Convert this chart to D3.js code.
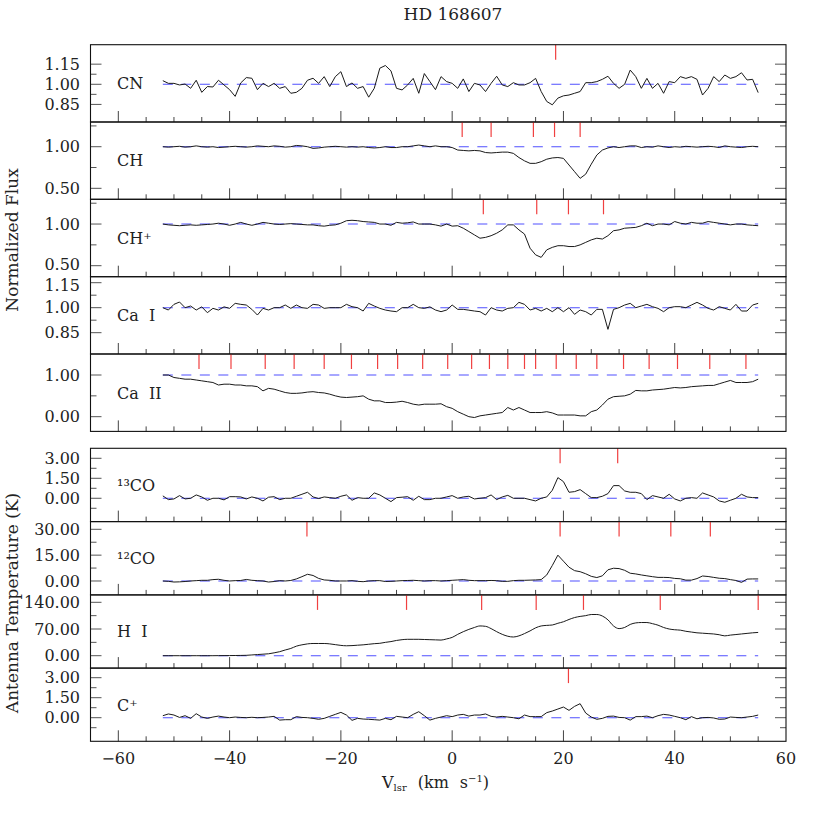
<!DOCTYPE html>
<html><head><meta charset="utf-8">
<script src="https://cdn.jsdelivr.net/npm/d3@7"></script>
<style>body{margin:0;background:#fff}svg{display:block}</style>
</head><body>
<svg id="chart" width="830" height="830"></svg>
<script>
// ---------------- data ----------------
const velocity = [-52,-51,-50,-49,-48,-47,-46,-45,-44,-43,-42,-41,-40,-39,-38,-37,-36,-35,-34,-33,-32,-31,-30,-29,-28,-27,-26,-25,-24,-23,-22,-21,-20,-19,-18,-17,-16,-15,-14,-13,
 -12,-11,-10,-9,-8,-7,-6,-5,-4,-3,-2,-1,0,1,2,3,4,5,6,7,8,9,10,11,12,13,14,15,16,17,18,19,20,21,22,23,24,25,26,27,28,29,30,31,32,33,34,35,36,37,38,39,40,41,42,43,44,45,46,47,48,49,50,51,52,53,54,55];

const cnFlux = [1.027,1.007,1.007,0.995,1.002,0.97,1.03,0.94,0.983,0.98,1.03,0.995,0.96,0.91,1.01,1.05,1.045,0.96,1.007,0.983,1.007,0.97,0.983,0.933,0.94,0.97,1.03,1.045,1.007,1.057,0.983,1.057,1.094,0.983,1.01,0.97,0.983,0.904,0.97,1.12,
 1.14,1.10,0.97,0.958,0.995,1.044,0.933,1.08,1.02,0.96,1.057,1.02,1.007,0.97,1.04,0.946,1.007,0.995,0.946,1.007,1.06,0.995,0.983,1.012,0.995,0.995,1.012,1.044,0.946,0.872,0.847,0.897,0.914,0.92,0.933,0.946,1.012,1.012,1.02,1.037,1.06,1.007,0.97,1.0,1.106,1.057,0.97,1.044,0.97,1.007,0.933,1.02,1.012,1.057,1.044,1.057,1.037,0.92,0.97,1.057,1.02,1.069,1.044,1.057,1.086,1.032,1.037,0.938];

const chFlux = [1.0,0.995,1.0,1.005,0.995,1.0,1.01,1.0,0.995,1.0,0.99,0.995,1.0,1.005,1.0,0.995,1.0,1.01,1.005,1.0,1.01,1.005,0.995,1.0,1.015,1.01,1.0,0.98,0.985,0.995,1.0,1.005,1.0,0.995,1.0,0.995,1.0,0.99,0.985,0.99,
 1.0,0.99,0.99,1.0,1.0,1.01,1.02,1.01,1.0,1.01,1.0,1.0,0.99,0.96,0.955,0.95,0.955,0.95,0.93,0.925,0.93,0.935,0.935,0.92,0.87,0.83,0.80,0.80,0.82,0.85,0.865,0.87,0.86,0.78,0.70,0.62,0.67,0.79,0.90,0.96,0.985,1.0,
 0.99,1.0,1.01,1.01,0.99,1.0,0.995,1.01,1.0,0.99,1.0,0.995,1.005,1.0,0.995,1.0,1.005,1.0,0.99,1.01,1.0,0.995,0.99,1.0,1.005,1.0];

const chPlusFlux = [1.0,0.99,0.985,0.98,0.985,0.99,0.985,0.99,0.995,1.0,1.01,1.0,0.985,1.0,1.02,1.0,0.985,1.0,1.02,1.01,1.0,0.995,1.0,1.005,1.0,0.995,0.99,0.99,0.98,0.975,0.985,0.99,1.01,1.04,1.045,1.04,1.03,1.025,1.02,1.0,
 1.0,0.985,1.02,1.01,1.015,1.025,1.0,1.0,1.0,0.99,0.975,1.0,0.975,0.98,0.95,0.91,0.87,0.83,0.84,0.86,0.89,0.93,0.99,0.99,0.93,0.88,0.71,0.63,0.60,0.69,0.72,0.74,0.74,0.73,0.73,0.75,0.78,0.81,0.83,0.82,0.86,0.92,0.93,0.95,0.955,0.96,0.98,1.01,0.98,1.0,1.0,0.99,1.03,1.01,1.0,1.02,1.01,1.01,1.03,1.02,1.01,1.0,0.99,1.0,1.0,0.99,0.985,0.98];

const caIFlux = [1.0,0.986,1.02,1.034,1.0,1.01,0.986,1.005,0.97,0.996,0.986,1.005,0.996,1.026,1.02,1.016,0.99,0.956,0.996,0.986,1.0,1.0,1.016,0.996,1.016,1.0,0.996,1.02,1.016,0.996,1.0,1.0,1.0,1.02,1.006,1.0,0.98,1.026,1.01,0.996,
 0.986,0.98,0.976,1.0,1.0,1.02,1.0,0.996,1.005,0.986,0.976,0.986,1.016,0.99,0.99,0.985,0.98,0.976,0.956,1.0,0.986,0.98,0.996,1.0,1.032,1.02,0.986,0.996,0.98,0.996,0.976,1.0,0.976,1.0,0.96,0.986,0.976,0.956,0.99,0.99,0.87,0.99,1.0,1.016,1.026,1.0,1.01,1.02,1.006,0.996,0.976,1.0,1.006,1.006,1.0,1.016,1.032,1.016,0.996,0.986,1.006,0.996,0.986,1.02,0.98,0.98,1.016,1.026];

const caIIFlux = [1.0,1.0,0.94,0.92,0.90,0.90,0.88,0.86,0.84,0.82,0.76,0.78,0.78,0.76,0.76,0.74,0.74,0.72,0.62,0.68,0.66,0.62,0.58,0.56,0.56,0.57,0.59,0.60,0.58,0.57,0.54,0.50,0.47,0.46,0.47,0.48,0.50,0.42,0.38,0.38,
 0.34,0.34,0.35,0.37,0.34,0.30,0.28,0.30,0.30,0.30,0.31,0.24,0.20,0.12,0.06,0.0,-0.02,0.02,0.04,0.06,0.08,0.10,0.22,0.16,0.22,0.16,0.10,0.10,0.10,0.12,0.09,0.04,0.04,0.04,0.04,0.02,0.02,0.12,0.16,0.28,0.42,0.48,0.49,0.50,0.54,0.63,0.62,0.62,0.64,0.65,0.66,0.68,0.70,0.69,0.70,0.72,0.73,0.74,0.75,0.75,0.79,0.83,0.87,0.82,0.82,0.82,0.84,0.90];

const co13Temp = [0.18,-0.1,-0.05,0.2,-0.05,0.0,0.25,0.1,-0.15,0.0,0.0,-0.12,0.12,0.12,0.1,-0.05,0.1,0.0,-0.2,0.08,0.12,-0.1,0.0,0.0,0.15,0.3,0.45,0.1,-0.02,0.1,0.05,0.0,0.15,0.25,-0.15,0.05,0.0,0.0,0.4,0.25,
 0.0,-0.25,0.05,0.08,0.12,-0.15,0.15,-0.1,-0.1,0.0,0.0,0.1,0.2,0.0,0.1,0.15,-0.05,0.0,0.05,0.25,-0.1,0.1,0.22,0.0,0.0,0.0,-0.1,-0.2,0.0,0.1,0.6,1.55,1.25,0.45,0.5,0.65,0.35,0.05,0.05,0.15,0.35,0.95,0.95,0.55,0.45,0.45,0.35,-0.1,0.2,0.1,0.0,0.3,-0.05,-0.2,0.0,0.05,0.0,0.4,0.25,0.1,-0.2,-0.3,-0.15,0.0,0.3,0.1,0.05,0.05];

const co12Temp = [0.0,-0.2,-0.6,-0.5,-0.3,0.0,0.2,0.4,0.4,0.8,1.0,0.4,0.0,0.2,0.3,0.9,0.4,0.2,0.0,-0.6,-0.3,0.2,0.0,0.3,1.2,2.5,3.9,3.2,1.5,0.6,0.4,0.0,0.0,0.0,0.2,-0.2,-0.4,0.0,0.2,0.2,
 -0.3,-0.2,0.0,0.2,0.3,0.4,0.2,0.0,0.2,0.2,0.0,0.2,0.4,0.6,0.8,0.4,0.2,0.2,0.2,0.3,0.2,-0.2,-0.2,0.2,0.4,0.4,0.5,0.6,0.8,3.5,9.0,15.0,11.5,8.0,6.0,5.4,4.2,2.7,2.0,3.0,6.5,7.4,7.2,6.2,4.5,4.1,3.5,3.0,2.5,2.1,2.1,2.0,1.5,1.3,0.5,0.5,1.4,2.9,2.6,2.1,1.6,1.4,0.8,0.3,-0.8,1.1,1.2,1.2];

const hiTemp = [0.0,0.0,0.0,0.0,0.0,0.0,0.0,0.0,0.0,0.0,0.2,0.3,0.4,0.5,0.7,1.0,2.0,3.0,4.0,5.0,7.5,10.5,15,19,25,28.5,31,32,32,32,31,29,27,26,26.5,27.5,28.5,30,31.5,32.5,
 35,37,40,42,43,43,43,42.5,42,41.5,41,44,48,56,63,69,74,78,77,71,63,56,51,49,52,58,65,73,78,79.5,80.5,85,89,95,100,103,105,108,108,104,94,78,71,74,82,86,87,87,84,80,74,70,68,67,64,62,60,59,58,57,55,52,54,55.5,57,58.5,60,61];

const cPlusTemp = [0.15,0.28,0.2,0.02,0.15,-0.05,0.3,0.05,-0.05,0.05,0.12,0.05,0.0,0.05,0.02,0.0,0.03,0.0,0.02,0.05,0.1,-0.18,-0.15,-0.15,0.08,0.02,0.0,-0.05,-0.12,-0.05,0.1,0.25,0.4,0.2,-0.2,-0.05,-0.1,-0.12,-0.15,-0.18,
 -0.05,-0.15,0.1,0.05,0.0,0.25,0.45,0.15,-0.18,-0.05,0.05,0.15,0.08,0.2,0.25,0.12,0.2,0.2,0.28,0.1,0.05,0.1,0.05,0.0,-0.08,0.2,0.08,0.08,0.08,0.38,0.5,0.65,0.8,0.55,0.85,1.05,0.35,0.05,-0.12,-0.05,0.1,0.12,0.02,0.0,-0.18,0.08,0.08,0.12,0.0,0.15,0.25,0.2,0.1,0.0,-0.15,0.08,-0.08,0.0,0.02,-0.02,-0.12,-0.1,0.05,0.02,0.0,0.05,0.1,0.2];

// velocity components marked in red
const cnMarks = [18.6];
const chMarks = [1.8, 7.0, 14.6, 18.4, 23.0];
const chPlusMarks = [5.6, 15.2, 20.9, 27.2];
const caIMarks = [];
const caIIMarks = [-45.5,-39.75,-33.6,-28.4,-23.0,-18.1,-13.4,-9.8,-5.3,-0.8,3.5,6.7,10.0,13.0,15.0,18.7,22.3,26.0,30.8,35.4,40.5,46.3,52.8];
const co13Marks = [19.4, 29.75];
const co12Marks = [-26.1, 19.4, 30.0, 39.3, 46.4];
const hiMarks = [-24.2, -8.2, 5.3, 15.1, 23.6, 37.4, 55.0];
const cPlusMarks = [20.9];

// tick labels
const xTickLabels = [-60,-40,-20,0,20,40,60];
const cnTicks = [0.85, 1.00, 1.15], cnMinor = [0.925, 1.075];
const chTicks = [0.50, 1.00], chMinor = [0.75, 1.25];
const caITicks = [0.85, 1.00, 1.15], caIMinor = [0.925, 1.075];
const caIITicks = [0.00, 1.00], caIIMinor = [0.5];
const coTicks = [0.00, 1.50, 3.00], coMinor = [-0.75, 0.75, 2.25];
const co12Ticks = [0.00, 15.00, 30.00], co12Minor = [7.5, 22.5];
const hiTicks = [0.00, 70.00, 140.00], hiMinor = [35, 105];

// ---------------- layout ----------------
const FONT = "'DejaVu Serif', serif";
const svg = d3.select('#chart');
const X0 = 90.5, X1 = 786;
const x = d3.scaleLinear().domain([-65, 60]).range([X0, X1]);

const upperTops = [44.7, 122.0, 199.3, 276.7, 354.0, 431.4];
const lowerTops = [448.3, 521.6, 594.9, 668.1, 741.3];

const panels = [
  {label: 'CN', data: cnFlux, ref: 1, domain: [0.719, 1.295], top: upperTops[0], bottom: upperTops[1], major: cnTicks, minor: cnMinor, marks: cnMarks},
  {label: 'CH', data: chFlux, ref: 1, domain: [0.368, 1.297], top: upperTops[1], bottom: upperTops[2], major: chTicks, minor: chMinor, marks: chMarks},
  {label: 'CH⁺', data: chPlusFlux, ref: 1, domain: [0.368, 1.297], top: upperTops[2], bottom: upperTops[3], major: chTicks, minor: chMinor, marks: chPlusMarks, lowShift: -1},
  {label: 'Ca\u00a0\u00a0I', data: caIFlux, ref: 1, domain: [0.722, 1.186], top: upperTops[3], bottom: upperTops[4], major: caITicks, minor: caIMinor, marks: caIMarks, highShift: 3},
  {label: 'Ca\u00a0\u00a0II', data: caIIFlux, ref: 1, domain: [-0.353, 1.504], top: upperTops[4], bottom: upperTops[5], major: caIITicks, minor: caIIMinor, marks: caIIMarks},
  {label: '¹³CO', data: co13Temp, ref: 0, domain: [-1.75, 3.75], top: lowerTops[0], bottom: lowerTops[1], major: coTicks, minor: coMinor, marks: co13Marks},
  {label: '¹²CO', data: co12Temp, ref: 0, domain: [-8.07, 34.47], top: lowerTops[1], bottom: lowerTops[2], major: co12Ticks, minor: co12Minor, marks: co12Marks},
  {label: 'H\u00a0\u00a0I', data: hiTemp, ref: 0, domain: [-32.5, 159.4], top: lowerTops[2], bottom: lowerTops[3], major: hiTicks, minor: hiMinor, marks: hiMarks, smooth: true},
  {label: 'C⁺', data: cPlusTemp, ref: 0, domain: [-1.77, 3.72], top: lowerTops[3], bottom: lowerTops[4], major: coTicks, minor: coMinor, marks: cPlusMarks, last: true}
];

const xMinor = d3.range(-60, 60, 5);

panels.forEach(p => {
  const y = d3.scaleLinear().domain(p.domain).range([p.bottom, p.top]);
  const g = svg.append('g');

  // x ticks (bottom, pointing up)
  g.selectAll('.xt').data(xMinor).enter().append('line').attr('class', 'xt')
    .attr('x1', d => x(d)).attr('x2', d => x(d))
    .attr('y1', p.bottom).attr('y2', d => p.bottom - (d % 20 === 0 ? 11 : 5))
    .attr('stroke', '#444').attr('stroke-width', 1);

  // y ticks both sides
  const yt = p.major.map(v => ({v, len: 11})).concat(p.minor.map(v => ({v, len: 6})));
  g.selectAll('.yl').data(yt).enter().append('line').attr('class', 'yl')
    .attr('x1', X0).attr('x2', d => X0 + d.len)
    .attr('y1', d => y(d.v)).attr('y2', d => y(d.v))
    .attr('stroke', '#555').attr('stroke-width', 1);
  g.selectAll('.yr').data(yt).enter().append('line').attr('class', 'yr')
    .attr('x1', X1).attr('x2', d => X1 - d.len)
    .attr('y1', d => y(d.v)).attr('y2', d => y(d.v))
    .attr('stroke', '#555').attr('stroke-width', 1);

  // tick labels (the extreme labels of touching panels are nudged apart slightly)
  const hi = d3.max(p.major), lo = d3.min(p.major);
  g.selectAll('.ylab').data(p.major).enter().append('text').attr('class', 'ylab')
    .attr('x', 80)
    .attr('y', d => y(d) + 5.6 + (d === hi && p.highShift ? p.highShift : 0) + (d === lo && p.lowShift ? p.lowShift : 0))
    .attr('text-anchor', 'end')
    .attr('font-family', FONT).attr('font-size', 16).attr('fill', '#222')
    .text(d => d.toFixed(2));

  // reference dashed line
  g.append('line')
    .attr('x1', x(velocity[0])).attr('x2', x(velocity[velocity.length - 1]))
    .attr('y1', y(p.ref)).attr('y2', y(p.ref))
    .attr('stroke', '#5050ff').attr('stroke-width', 1.1)
    .attr('stroke-dasharray', '10,8.5');

  // spectrum
  const line = d3.line().x((d, i) => x(velocity[i])).y(d => y(d));
  if (p.smooth) line.curve(d3.curveMonotoneX);
  g.append('path').datum(p.data)
    .attr('d', line).attr('fill', 'none')
    .attr('stroke', '#1a1a1a').attr('stroke-width', 1);

  // red component markers
  g.selectAll('.mk').data(p.marks).enter().append('line').attr('class', 'mk')
    .attr('x1', d => x(d)).attr('x2', d => x(d))
    .attr('y1', p.top).attr('y2', p.top + 15)
    .attr('stroke', '#f04040').attr('stroke-width', 1.2);

  // frame
  g.append('rect')
    .attr('x', X0).attr('y', p.top).attr('width', X1 - X0).attr('height', p.bottom - p.top)
    .attr('fill', 'none').attr('stroke', '#111').attr('stroke-width', 1.1);

  // panel label
  g.append('text')
    .attr('x', 117).attr('y', (p.top + p.bottom) / 2 + 5.8)
    .attr('font-family', FONT).attr('font-size', 16).attr('fill', '#222')
    .text(p.label);

  if (p.last) {
    g.selectAll('.xlab').data(xTickLabels).enter().append('text').attr('class', 'xlab')
      .attr('x', d => x(d)).attr('y', p.bottom + 23)
      .attr('text-anchor', 'middle')
      .attr('font-family', FONT).attr('font-size', 16).attr('fill', '#222')
      .text(d => d < 0 ? '\u2212' + Math.abs(d) : String(d));
  }
});

// titles
svg.append('text').attr('x', 453).attr('y', 20).attr('text-anchor', 'middle')
  .attr('font-family', FONT).attr('font-size', 17).attr('fill', '#222')
  .text('HD 168607');

svg.append('text').attr('transform', 'translate(18,240) rotate(-90)')
  .attr('text-anchor', 'middle').attr('font-family', FONT).attr('font-size', 17).attr('fill', '#222')
  .text('Normalized Flux');

svg.append('text').attr('transform', 'translate(18,603) rotate(-90)')
  .attr('text-anchor', 'middle').attr('font-family', FONT).attr('font-size', 17).attr('fill', '#222')
  .text('Antenna Temperature (K)');

const xt = svg.append('text').attr('x', 382).attr('y', 788)
  .attr('font-family', FONT).attr('font-size', 16).attr('fill', '#222');
xt.append('tspan').text('V');
xt.append('tspan').attr('font-size', 10).attr('dy', 3).text('lsr');
xt.append('tspan').attr('dy', -3).attr('dx', 11).text('(km');
xt.append('tspan').attr('dx', 11).text('s');
xt.append('tspan').attr('font-size', 10).attr('dy', -6).text('\u2212' + '1');
xt.append('tspan').attr('dy', 6).text(')');
</script>
</body></html>
